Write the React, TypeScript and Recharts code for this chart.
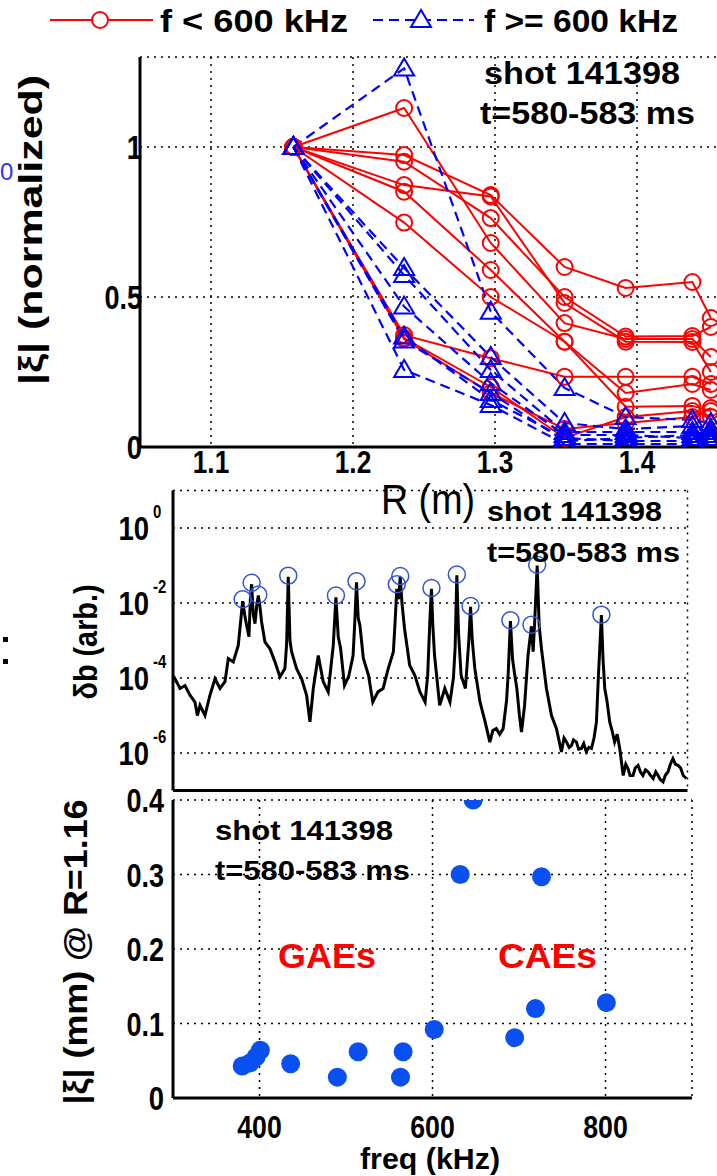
import React from 'react';
import { LineChart, Line, XAxis, YAxis, CartesianGrid, ScatterChart, Scatter } from 'recharts';

const FONT = '"Liberation Sans", Arial, Helvetica, sans-serif';

// top panel: normalized radial profiles
const R_POS = [1.158, 1.236, 1.297, 1.349, 1.392, 1.439, 1.452];
const GAE_PROFILES = [
  [1, 1.13, 0.68, 0.413, 0.36, 0.36, 0.3],
  [1, 0.973, 0.84, 0.6, 0.53, 0.55, 0.43],
  [1, 0.951, 0.763, 0.5, 0.368, 0.37, 0.4],
  [1, 0.873, 0.835, 0.48, 0.351, 0.35, 0.25],
  [1, 0.851, 0.59, 0.351, 0.18, 0.21, 0.19],
  [1, 0.748, 0.5, 0.351, 0.134, 0.137, 0.12],
  [1, 0.373, 0.296, 0.234, 0.234, 0.234, 0.21],
  [1, 0.363, 0.2, 0.03, 0.1, 0.12, 0.1],
  [1, 0.36, 0.18, 0.06, 0.08, 0.1, 0.13],
];
const CAE_PROFILES = [
  [1, 1.262, 0.451, 0.197, 0.1, 0.09, 0.08],
  [1, 0.597, 0.3, 0.08, 0.06, 0.07, 0.06],
  [1, 0.573, 0.257, 0.05, 0.05, 0.05, 0.04],
  [1, 0.468, 0.213, 0.04, 0.04, 0.03, 0.05],
  [1, 0.368, 0.157, 0.03, 0.02, 0.02, 0.03],
  [1, 0.355, 0.18, 0.02, 0.03, 0.04, 0.02],
  [1, 0.257, 0.14, 0.01, 0.01, 0.01, 0.01],
];
const R_TICKS = [1.1, 1.2, 1.3, 1.4];
const NORM_TICKS = [0, 0.5, 1];

// middle panel: spectrum [freq kHz, log10 amplitude]
const SPECTRUM = [
  [300.5, -3.95], [302.3, -4.02], [308.2, -4.28], [314, -4.2], [319.8, -4.46], [325.6, -4.64],
  [328.4, -5.0], [331.5, -4.73], [337.3, -5.0], [343.1, -4.46], [349, -4.02], [354.8, -4.28],
  [360.6, -4.1], [364.5, -3.48], [370.3, -3.57], [376.1, -3.13], [379.3, -2.4], [381.2, -1.95],
  [383.5, -2.3], [385.9, -2.6], [388.6, -2.9], [390.2, -1.9], [391.7, -1.5], [393.6, -2.3],
  [395.6, -2.55], [397.5, -2.1], [399.5, -1.8], [401.4, -2.1], [403.3, -2.5], [407.2, -3.04],
  [413.1, -3.22], [418.9, -3.57], [424.7, -3.97], [430.5, -3.75], [432.5, -3.1], [434.4, -1.3],
  [436.4, -3.0], [438.3, -3.3], [444.1, -3.75], [450, -4.02], [455.8, -4.46], [459.7, -5.17],
  [463.6, -4.28], [469.4, -3.4], [475.2, -4.1], [481, -4.37], [486.9, -3.13], [490, -1.85],
  [492.7, -2.9], [495.4, -3.2], [500, -4.2], [505, -3.95], [510, -3.4], [512, -2.5],
  [514, -1.45], [516, -2.4], [518, -2.6], [522, -3.48], [528, -3.93], [533, -4.64],
  [539, -4.37], [545, -4.28], [551, -3.75], [557, -3.3], [559, -2.5], [561, -1.62],
  [563, -1.9], [565, -1.3], [567, -2.0], [570, -2.68], [576, -3.66], [582, -3.93],
  [588, -4.37], [594, -4.64], [597, -3.93], [599.5, -2.5], [601.4, -1.62], [603, -2.6],
  [605, -3.4], [611, -4.73], [617, -4.28], [623, -4.64], [627, -4.0], [629, -3.2],
  [631, -1.26], [633, -2.8], [636, -3.93], [641, -4.28], [645, -3.0], [647, -2.1],
  [649, -3.0], [652, -3.75], [658, -4.64], [664, -5.17], [669.5, -5.71], [673, -5.4],
  [677, -5.35], [681, -5.5], [685, -5.35], [689, -4.6], [691, -3.84], [693.5, -2.48],
  [696, -3.5], [698.6, -3.93], [701, -4.28], [704, -5.0], [706.4, -5.44], [710, -4.73],
  [714, -3.4], [718, -2.62], [720, -3.3], [722, -2.4], [724.7, -1.0], [727, -2.6],
  [729.7, -3.22], [735.5, -4.28], [741.4, -5.0], [747.2, -5.35], [753, -5.97], [756, -5.6],
  [759, -5.71], [762, -5.85], [764.7, -5.8], [767, -5.65], [770.5, -5.71], [773, -5.9],
  [776.3, -5.88], [779, -5.75], [782, -5.97], [785, -5.85], [788, -5.88], [791, -5.6],
  [793.8, -5.17], [796, -4.0], [799.6, -2.32], [801.5, -3.5], [803.5, -4.28], [806, -4.6],
  [809.3, -5.17], [812, -5.4], [815, -5.71], [818, -5.5], [821, -5.88], [825, -6.6],
  [828, -6.3], [830.7, -6.42], [833, -6.6], [836.5, -6.6], [839, -6.4], [842.4, -6.33],
  [845, -6.5], [848, -6.6], [851, -6.45], [854, -6.5], [857, -6.6], [860, -6.68],
  [863, -6.5], [865.7, -6.6], [868, -6.7], [871.5, -6.77], [874, -6.6], [877.3, -6.5],
  [880, -6.3], [883, -6.15], [886, -6.3], [889, -6.33], [892, -6.4], [895, -6.6], [898.7, -6.68],
];
const PEAKS = [
  [381.2, -1.9], [391.7, -1.46], [399.5, -1.78], [434.4, -1.27], [490, -1.8], [514, -1.42],
  [561, -1.5], [565, -1.28], [601.4, -1.6], [631, -1.24], [647, -2.08], [693.5, -2.46],
  [718, -2.58], [724.7, -0.98], [799.6, -2.31],
];
const DB_TICKS = [1e-6, 1e-4, 1e-2, 1];
const DB_EXPONENTS = ['-6', '-4', '-2', '0'];

// bottom panel: mode amplitude at R=1.16
const MODE_F = [380, 389, 396, 401, 436, 490, 514, 563, 566, 602, 632, 647, 695, 719, 726, 801];
const MODE_XI = [0.043, 0.047, 0.055, 0.064, 0.046, 0.028, 0.062, 0.028, 0.062, 0.092, 0.3, 0.4, 0.081, 0.12, 0.297, 0.128];
const FREQ_TICKS = [400, 600, 800];
const XI_TICKS = [0, 0.1, 0.2, 0.3, 0.4];

const RED = '#ff0000';
const BLUE = '#0000ff';
const AXIS = { stroke: '#000', strokeWidth: 3 };
const GRID = { stroke: '#000', strokeDasharray: '2 5', strokeWidth: 1.5 };

const profileRows = (vals: number[]) => vals.map((v, i) => ({ R: R_POS[i], v }));
const specRows = SPECTRUM.map(([f, e]) => ({ f, db: Math.pow(10, e) }));
const peakRows = PEAKS.map(([f, e]) => ({ f, db: Math.pow(10, e) }));
const modeRows = MODE_F.map((f, i) => ({ f, xi: MODE_XI[i] }));

// the original figure's lettering is tall and narrow: squeeze glyphs to its widths
const narrowWidth = (s: string) =>
  s.split('').reduce((w, c) => w + (c === '.' ? 7 : c === '-' ? 9 : 15.3), 0);

const TickLabel = ({ x, y, s, anchor, size = 33 }: any) => (
  <text x={x} y={y} textAnchor={anchor} fontFamily={FONT} fontWeight={700} fontSize={size} fill="#000"
    textLength={narrowWidth(s) * size / 33} lengthAdjust="spacingAndGlyphs">{s}</text>
);

const Circle = (p: any) => (
  <circle cx={p.cx} cy={p.cy} r={8} fill="none" stroke={RED} strokeWidth={2} />
);
const Triangle = (p: any) => (
  <polygon
    points={`${p.cx},${p.cy - 10} ${p.cx - 10},${p.cy + 7} ${p.cx + 10},${p.cy + 7}`}
    fill="none"
    stroke={BLUE}
    strokeWidth={2}
  />
);

const XTickR = ({ x, y, payload }: any) => (
  <TickLabel x={x} y={y + 18} anchor="middle" size={32} s={payload.value.toFixed(1)} />
);
const YTickPlain = ({ x, y, payload }: any) => (
  <TickLabel x={x + 10} y={y + 12} anchor="end" s={String(payload.value)} />
);
const YTickSmall = ({ x, y, payload }: any) => (
  <TickLabel x={x - 1} y={y + 12} anchor="end" s={String(payload.value)} />
);
const XTickF = ({ x, y, payload }: any) => (
  <TickLabel x={x} y={y + 32} anchor="middle" size={32} s={String(payload.value)} />
);
const YTickLog = ({ x, y, index }: any) => (
  <g>
    <TickLabel x={x - 16} y={y + 12} anchor="end" s="10" />
    <TickLabel x={x - 12} y={y - 10} anchor="start" size={18} s={DB_EXPONENTS[index]} />
  </g>
);

function TopPanel() {
  return (
    <LineChart width={800} height={520} margin={{ top: 57, right: 21, bottom: 33, left: 80 }}>
      <CartesianGrid {...GRID} />
      <XAxis dataKey="R" type="number" domain={[1.05, 1.5]} ticks={R_TICKS} allowDataOverflow
        axisLine={AXIS} tickLine={false} height={40} tick={<XTickR />} />
      <YAxis type="number" domain={[0, 1.3]} ticks={NORM_TICKS} allowDataOverflow
        axisLine={AXIS} tickLine={false} width={60} tick={<YTickPlain />} />
      {GAE_PROFILES.map((vals, i) => (
        <Line key={'g' + i} data={profileRows(vals)} dataKey="v" stroke={RED} strokeWidth={2}
          dot={<Circle />} isAnimationActive={false} />
      ))}
      {CAE_PROFILES.map((vals, i) => (
        <Line key={'c' + i} data={profileRows(vals)} dataKey="v" stroke={BLUE} strokeWidth={2.2}
          strokeDasharray="10 6" dot={<Triangle />} isAnimationActive={false} />
      ))}
    </LineChart>
  );
}

function MiddlePanel() {
  return (
    <LineChart width={717} height={380} margin={{ top: 50.5, right: 29.5, bottom: 9.5, left: 113 }}>
      <CartesianGrid {...GRID} />
      <XAxis dataKey="f" type="number" domain={[300, 900]} ticks={FREQ_TICKS} allowDataOverflow
        axisLine={AXIS} tickLine={false} height={20} tick={false} />
      <YAxis type="number" scale="log" domain={[1e-7, 10]} ticks={DB_TICKS} allowDataOverflow
        axisLine={AXIS} tickLine={false} width={60} tick={<YTickLog />} />
      <Line data={specRows} dataKey="db" stroke="#000" strokeWidth={3} dot={false}
        isAnimationActive={false} />
      <Line data={peakRows} dataKey="db" stroke="none"
        dot={{ r: 8.5, stroke: '#2f55d4', strokeWidth: 1.5, fill: 'none' }} isAnimationActive={false} />
    </LineChart>
  );
}

function BottomPanel() {
  return (
    <ScatterChart width={717} height={396} margin={{ top: 20, right: 25, bottom: 28, left: 113 }}>
      <CartesianGrid {...GRID} />
      <XAxis dataKey="f" type="number" domain={[300, 900]} ticks={FREQ_TICKS} allowDataOverflow
        axisLine={AXIS} tickLine={false} height={50} tick={<XTickF />} />
      <YAxis dataKey="xi" type="number" domain={[0, 0.4]} ticks={XI_TICKS} allowDataOverflow
        axisLine={AXIS} tickLine={false} width={60} tick={<YTickSmall />} />
      <Scatter data={modeRows} fill="#0a4ff0" isAnimationActive={false}
        shape={(p: any) => <circle cx={p.cx} cy={p.cy} r={9.5} fill="#0a4ff0" />} />
    </ScatterChart>
  );
}

const T = (props: any) => <text fontFamily={FONT} fontWeight={700} fill="#000" lengthAdjust="spacingAndGlyphs" {...props} />;

function Overlay() {
  return (
    <svg width={717} height={1176} style={{ position: 'absolute', left: 0, top: 0, pointerEvents: 'none' }}>
      {/* legend */}
      <line x1={50} y1={20} x2={153} y2={20} stroke={RED} strokeWidth={2} />
      <circle cx={100} cy={20} r={8} fill="#fff" stroke={RED} strokeWidth={2} />
      <T x={160} y={32} fontSize={32} textLength={188}>f &lt; 600 kHz</T>
      <line x1={373} y1={20} x2={474} y2={20} stroke={BLUE} strokeWidth={2} strokeDasharray="10 6" />
      <polygon points="421,10 411,27 431,27" fill="#fff" stroke={BLUE} strokeWidth={2} />
      <T x={484} y={32} fontSize={32} textLength={194}>f &gt;= 600 kHz</T>

      {/* top panel */}
      <T x={484} y={84} fontSize={31} textLength={196}>shot 141398</T>
      <T x={480} y={124} fontSize={31} textLength={215}>t=580-583 ms</T>
      <T x={30} y={230} fontSize={34} textLength={310} textAnchor="middle" dominantBaseline="central"
        transform="rotate(-90 30 230)">|ξ| (normalized)</T>
      <text x={0} y={180} fontFamily={FONT} fontSize={24} fill="#3030ff">0</text>

      {/* middle panel */}
      <text x={428} y={514} fontFamily={FONT} fontSize={42} textLength={94} lengthAdjust="spacingAndGlyphs"
        textAnchor="middle" fill="#000">R (m)</text>
      <T x={487} y={521} fontSize={28} textLength={175}>shot 141398</T>
      <T x={487} y={562} fontSize={28} textLength={193}>t=580-583 ms</T>
      <T x={85} y={642} fontSize={33} textLength={115} textAnchor="middle" dominantBaseline="central"
        transform="rotate(-90 85 642)">δb (arb.)</T>
      <rect x={3} y={637} width={5} height={5} fill="#000" />
      <rect x={3} y={659} width={5} height={5} fill="#000" />

      {/* bottom panel */}
      <T x={215} y={840} fontSize={28} textLength={178}>shot 141398</T>
      <T x={215} y={880} fontSize={28} textLength={195}>t=580-583 ms</T>
      <T x={278} y={968} fontSize={35} textLength={98} fill={RED}>GAEs</T>
      <T x={498} y={968} fontSize={35} textLength={99} fill={RED}>CAEs</T>
      <T x={430} y={1169} fontSize={29} textLength={140} textAnchor="middle">freq (kHz)</T>
      <T x={75} y={952} fontSize={34} textLength={305} textAnchor="middle" dominantBaseline="central"
        transform="rotate(-90 75 952)">|ξ| (mm) @ R=1.16</T>
    </svg>
  );
}

export default function App() {
  return (
    <div style={{ position: 'absolute', left: 0, top: 0, width: 717, height: 1176, overflow: 'hidden', background: '#fff' }}>
      <div style={{ position: 'absolute', left: 0, top: 0 }}><TopPanel /></div>
      <div style={{ position: 'absolute', left: 0, top: 440 }}><MiddlePanel /></div>
      <div style={{ position: 'absolute', left: 0, top: 780 }}><BottomPanel /></div>
      <Overlay />
    </div>
  );
}
